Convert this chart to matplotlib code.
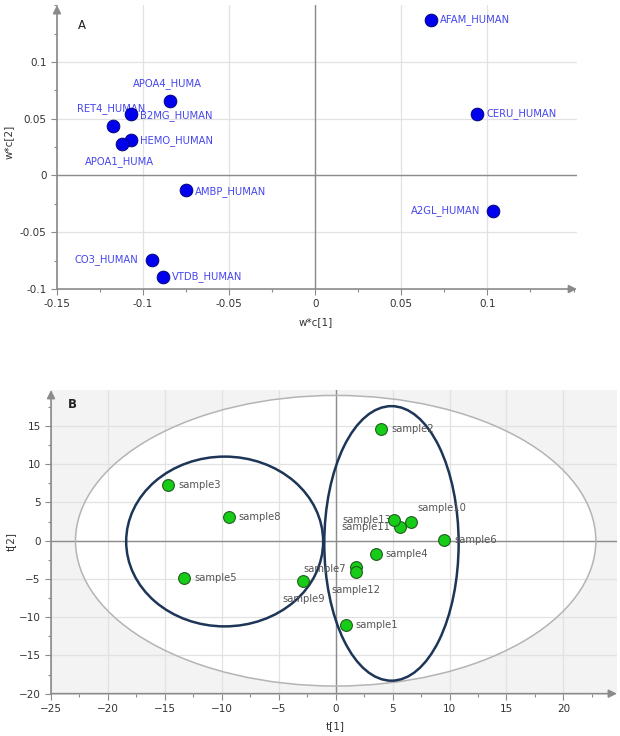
import numpy as np
import matplotlib
matplotlib.use("Agg")
import matplotlib.pyplot as plt
from matplotlib.patches import Ellipse
from matplotlib.ticker import MultipleLocator
from matplotlib.transforms import blended_transform_factory

# loadings (w*c) for the proteins
proteins = ["AFAM_HUMAN", "CERU_HUMAN", "A2GL_HUMAN", "APOA4_HUMA", "B2MG_HUMAN",
            "RET4_HUMAN", "HEMO_HUMAN", "APOA1_HUMA", "AMBP_HUMAN", "CO3_HUMAN",
            "VTDB_HUMAN"]
wc1 = [0.067, 0.094, 0.103, -0.0845, -0.107, -0.1176, -0.107, -0.1124, -0.075, -0.095, -0.0886]
wc2 = [0.137, 0.0545, -0.031, 0.0653, 0.054, 0.0433, 0.0309, 0.0274, -0.0132, -0.0742, -0.0892]
# label offsets in pixels and horizontal alignment
prot_off = [(9, 0, "left"), (9, 0, "left"), (-12, 0, "right"), (-2, 18, "center"),
            (9, -1, "left"), (-2, 18, "center"), (9, 0, "left"), (-2, -17, "center"),
            (9, -1, "left"), (-13, 0, "right"), (9, 0, "left")]

# scores (t) for the samples
samples = ["sample1", "sample2", "sample3", "sample4", "sample5", "sample6", "sample7",
           "sample8", "sample9", "sample10", "sample11", "sample12", "sample13"]
t1 = [0.87, 3.98, -14.7, 3.51, -13.3, 9.5, 1.8, -9.39, -2.85, 6.6, 5.67, 1.8, 5.08]
t2 = [-11.0, 14.67, 7.3, -1.74, -4.83, 0.09, -3.48, 3.13, -5.26, 2.48, 1.83, -4.05, 2.7]
samp_off = [(10, 0, "left"), (10, 0, "left"), (10, 0, "left"), (10, 0, "left"),
            (10, 0, "left"), (11, 0, "left"), (-10, -2, "right"), (10, 0, "left"),
            (0, -18, "center"), (7, 14, "left"), (-10, 0, "right"), (0, -18, "center"),
            (-2, 0, "right")]

# Hotelling ellipse and the two group ellipses (cx, cy, width, height)
hotelling = (0, 0, 45.7, 38.0)
groups = [(-9.75, -0.1, 17.3, 22.2), (4.9, -0.35, 11.8, 35.9)]

PX = 0.72  # points per pixel at dpi 100
TICK = "#333333"
AXC = "#8a8a8a"


def style_axes(ax, xmaj, ymaj):
    for s in ax.spines.values():
        s.set_visible(False)
    ax.xaxis.set_major_locator(MultipleLocator(xmaj))
    ax.yaxis.set_major_locator(MultipleLocator(ymaj))
    ax.xaxis.set_minor_locator(MultipleLocator(xmaj / 2))
    ax.yaxis.set_minor_locator(MultipleLocator(ymaj / 2))
    ax.tick_params(which="both", colors=AXC, labelcolor=TICK, labelsize=7.5,
                   direction="out", width=0.8)
    ax.tick_params(which="major", length=4)
    ax.tick_params(which="minor", length=2.5)
    ax.grid(True, which="major", color="#e2e2e2", lw=0.9, zorder=1)
    ax.set_axisbelow(True)
    # axis lines with arrow heads
    ax.annotate("", xy=(0, 1.0), xytext=(0, 0), xycoords="axes fraction",
                arrowprops=dict(arrowstyle="-|>", color=AXC, lw=1.2,
                                mutation_scale=12, shrinkA=0, shrinkB=0))
    ax.annotate("", xy=(1.0, 0), xytext=(0, 0), xycoords="axes fraction",
                arrowprops=dict(arrowstyle="-|>", color=AXC, lw=1.2,
                                mutation_scale=12, shrinkA=0, shrinkB=0))
    ax.axhline(0, color="#8c8c8c", lw=1.0, zorder=1.5)
    ax.axvline(0, color="#8c8c8c", lw=1.0, zorder=1.5)


fig = plt.figure(figsize=(6.2, 7.36), dpi=100)

# ---- A: loadings ----
axA = fig.add_axes([0.0919, 0.6073, 0.8387, 0.3857])
axA.set_xlim(-0.15, 0.152)
axA.set_ylim(-0.1, 0.150)
style_axes(axA, 0.05, 0.05)
axA.set_xticks([-0.15, -0.1, -0.05, 0, 0.05, 0.1])
axA.set_xticklabels(["-0.15", "-0.1", "-0.05", "0", "0.05", "0.1"])
axA.set_yticks([-0.1, -0.05, 0, 0.05, 0.1])
axA.set_yticklabels(["-0.1", "-0.05", "0", "0.05", "0.1"])
axA.scatter(wc1, wc2, s=85, color="#0000ee", edgecolors="#00006a", linewidths=0.6, zorder=3)
for name, x, y, (dx, dy, ha) in zip(proteins, wc1, wc2, prot_off):
    axA.annotate(name, (x, y), xytext=(dx * PX, dy * PX), textcoords="offset points",
                 ha=ha, va="center", fontsize=7.2, color="#4545ee", zorder=2.5)
axA.text(0.04, 0.93, "A", transform=axA.transAxes, fontsize=8.5, color="#222222",
         va="center")
axA.set_ylabel("w*c[2]", fontsize=7.5, color=TICK)
axA.yaxis.set_label_coords(-0.083, 0.52)
trA = blended_transform_factory(axA.transData, axA.transAxes)
axA.text(0, -0.117, "w*c[1]", transform=trA, ha="center", va="center",
         fontsize=7.5, color=TICK)

# ---- B: scores ----
axB = fig.add_axes([0.0823, 0.0575, 0.9127, 0.4125])
axB.set_xlim(-25, 24.7)
axB.set_ylim(-20, 19.7)
axB.set_facecolor("#f3f3f3")
style_axes(axB, 5, 5)
axB.set_xticks(np.arange(-25, 21, 5))
axB.set_yticks(np.arange(-20, 16, 5))
cx, cy, w, h = hotelling
axB.add_patch(Ellipse((cx, cy), w, h, facecolor="white", edgecolor="none", zorder=0.5))
axB.add_patch(Ellipse((cx, cy), w, h, facecolor="none", edgecolor="#b4b4b4", lw=1.1, zorder=2))
for gx, gy, gw, gh in groups:
    axB.add_patch(Ellipse((gx, gy), gw, gh, facecolor="none", edgecolor="#1d3557",
                          lw=1.8, zorder=2.2))
axB.scatter(t1, t2, s=72, color="#16cc16", edgecolors="#1e5e1e", linewidths=0.8, zorder=3)
for name, x, y, (dx, dy, ha) in zip(samples, t1, t2, samp_off):
    axB.annotate(name, (x, y), xytext=(dx * PX, dy * PX), textcoords="offset points",
                 ha=ha, va="center", fontsize=7.2, color="#555555", zorder=2.6)
axB.text(0.03, 0.954, "B", transform=axB.transAxes, fontsize=8.5, color="#222222",
         fontweight="bold", va="center")
axB.set_ylabel("t[2]", fontsize=7.5, color=TICK)
axB.yaxis.set_label_coords(-0.062, 0.5)
trB = blended_transform_factory(axB.transData, axB.transAxes)
axB.text(0, -0.108, "t[1]", transform=trB, ha="center", va="center",
         fontsize=7.5, color=TICK)

fig.savefig("out.png", dpi=100)
